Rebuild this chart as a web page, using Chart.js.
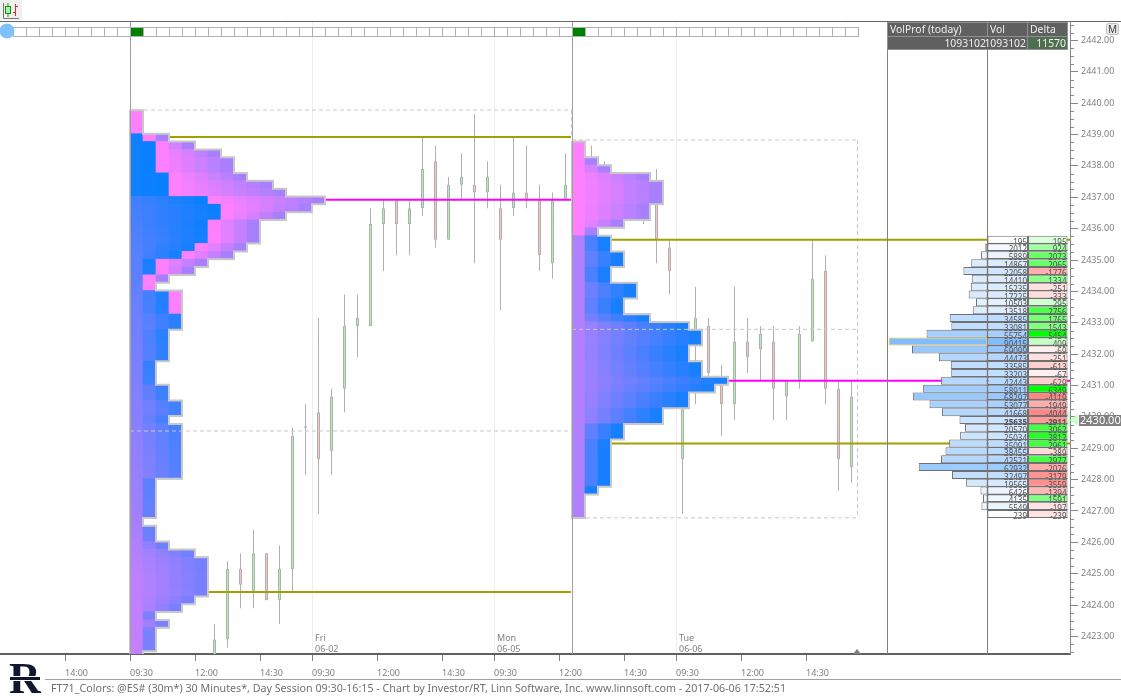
<!DOCTYPE html>
<html>
<head>
<meta charset="utf-8">
<title>FT71_Colors</title>
<script src="https://cdn.jsdelivr.net/npm/chart.js@4"></script>
<style>
  html, body { margin: 0; padding: 0; background: #fff; }
  canvas { display: block; }
</style>
</head>
<body>
<canvas id="chartCanvas" width="1121" height="696"></canvas>
<script>
// candles, one per 30 minute slot, first one sits in slot 6 after the 09:30 line
const candleOpen  = [2422.25,2423,2425.25,2424.5,2425.75,2424.25,2425.25,2429.75,2430.25,2429,2431,2433,2433,2436.25,2437,2436.25,2436.75,2438.25,2435.75,2437.5,2437.5,2437.25,2436.75,2436.75,2437.25,2437,2435,2437,
  2437,2437.5,2437,2437.25,2437.5,2437,2437,2435.5,2428.75,2432.5,2433,2431.25,2430.5,2432.5,2432.25,2432.5,2430.75,2431.25,2432.5,2434.75,2431,2428.5];
const candleHigh  = [2423.5,2425.5,2425.75,2426.5,2425.75,2426,2429.75,2430.5,2433.25,2431,2434,2434,2436.75,2437,2437,2437,2439,2438.75,2437.75,2438.5,2439.75,2438.25,2437.5,2439,2438.75,2437.5,2437.25,2438.5,
  2438,2438.75,2438.25,2437.75,2437.5,2437.25,2438,2435.75,2431.5,2434.25,2433.25,2431.75,2434.25,2433.25,2433,2433,2431.25,2433,2435.75,2435.25,2431.25,2431.25];
const candleLow   = [2422,2422.75,2424,2424,2424.25,2423.5,2424.5,2428.25,2427,2428.25,2430.25,2432,2433,2434.75,2435.25,2435.25,2436.5,2435.5,2435.75,2437,2435,2436.75,2433.5,2436.5,2436.75,2434.75,2434.5,2437,
  2436.5,2436.75,2436.5,2436.5,2436.5,2436.25,2435,2434,2427,2430.5,2431.25,2429.5,2430,2431.5,2431.25,2430,2430,2431,2432.5,2430.5,2427.75,2428];
const candleClose = [2423,2425.25,2424.75,2425.75,2424.25,2425.25,2429.5,2429.8,2428.75,2430.75,2433,2433.25,2436.25,2436.75,2436.25,2436.75,2438,2435.75,2437.5,2437.75,2437.25,2437.75,2435.75,2437.25,2437,2435.25,2437,2437.5,
  2437.5,2437,2437.25,2437,2437,2436.5,2435.75,2434.75,2431,2433.25,2431.5,2430.5,2432.5,2432,2432.75,2431,2431.25,2432.75,2434.5,2431,2428.75,2430.75];

// market profile 1, width of every quarter point row from 2439.75 down
const profile1Cols = [1,1,1,3,5,7,8,8,9,11,12,15,14,12,10,10,10,9,8,6,5,3,2,4,4,4,4,4,3,3,3,3,2,2,2,3,3,4,4,3,4,4,4,4,4,4,4,2,2,2,2,2,1,2,2,3,5,6,6,6,6,6,5,4,2,3,2,2,2,1];
const profile1Blue = [0,0,0,1,2,2,2,2,3,3,3,6,7,7,6,6,6,5,4,2,2,1,1,3,3,3,4,4];
// market profile 2, from 2438.75 down
const profile2Cols = [1,1,2,3,6,7,7,7,6,6,4,2,3,3,4,4,3,3,5,5,4,4,6,9,10,10,9,9,10,10,12,11,9,9,7,7,4,4,3,3,3,3,3,3,2,1,1,1];

// today's volume table, from 2435.75 down
const volumeByPrice = [195,2012,5889,14867,22058,14410,15235,17225,10503,13518,34585,33081,55754,90415,69099,44473,33585,33203,42443,58911,68297,53077,41668,25635,20570,25034,35091,38455,42521,62932,32497,19565,6426,4135,5549,239];
const deltaByPrice  = [195,924,2073,2065,-1776,1334,-251,-333,295,2756,1765,1543,5454,409,-69,-251,-613,-67,-629,6349,-4119,-1949,-4044,-2911,3062,3812,2961,-389,2977,-2026,-3179,-3559,-1394,1591,-197,-239];

const xTickSlots  = [-5,0,5,10,14,19,24,28,33,38,42,47,52];
const xTickLabels = ["14:00","09:30","12:00","14:30","09:30","12:00","14:30","09:30","12:00","14:30","09:30","12:00","14:30"];
const dayLabels   = [["Fri","06-02",14],["Mon","06-05",28],["Tue","06-06",42]];
const sessionSlots = [0,34];

const profile1VAH = 2439, profile1POC = 2437, profile1VAL = 2424.5;
const profile2VAH = 2435.75, profile2POC = 2431.25, profile2VAL = 2429.25;
const lastPrice = 2430, lastRow = 23;

const footerText = "FT71_Colors: @ES# (30m*) 30 Minutes*, Day Session 09:30-16:15 - Chart by Investor/RT, Linn Software, Inc. www.linnsoft.com - 2017-06-06 17:52:51";

const fontName = '"Noto Sans", sans-serif';
const SLOT = 13, ORIGIN = 130;         // one bar is 13 px, first session line at 130
const shift = 0.1;                     // rows and candles sit a little under their tick
const slotOf = px => (px - ORIGIN) / SLOT;
const yMin = 2422.44, yMax = 2442.588;

function stops(list, p) {
    if (p >= list[0][0]) return list[0][1];
    for (let i = 1; i < list.length; i++) {
        if (p >= list[i][0]) {
            const a = list[i - 1], b = list[i];
            return b[1] + (a[1] - b[1]) * (p - b[0]) / (a[0] - b[0]);
        }
    }
    return list[list.length - 1][1];
}
const startStops = [[2437.1,16],[2437,64],[2433,112],[2430,136],[2427,160],[2425,190],[2422,196]];
const endStops   = [[2437,8],[2433,40],[2429,80],[2425,120],[2422,124]];
const pinkR = (c, n, k) => n - k < 2 ? 255 : 255 - 87 * (c - k) / (n - k - 1);
const cellColor = r => "rgb(" + Math.round(r) + ",128,255)";

function profile1Cells() {
    const cells = [];
    profile1Cols.forEach((n, row) => {
        const p = 2439.75 - row * 0.25;
        const k = row < profile1Blue.length ? profile1Blue[row] : n;
        for (let c = 0; c < n; c++) {
            let r;
            if (c >= k) r = pinkR(c, n, k);
            else r = k < 2 ? stops(startStops, p) : stops(startStops, p) + (stops(endStops, p) - stops(startStops, p)) * c / (k - 1);
            cells.push({ x: [c, c + 1], y: p - shift, r: r });
        }
    });
    return cells;
}
function profile2Cells() {
    const cells = [];
    profile2Cols.forEach((n, row) => {
        const p = 2438.75 - row * 0.25;
        for (let c = 0; c < n; c++) {
            let r;
            if (row < 12) r = pinkR(c, n, 0);
            else {
                const t = n < 2 ? 0 : Math.pow(c / (n - 1), n <= 6 ? 0.6 : 0.85);
                r = 176 + (24 - 176) * t;
            }
            cells.push({ x: [34 + c, 35 + c], y: p - shift, r: r });
        }
    });
    return cells;
}
function outline(cols, top, x0) {
    const pts = [];
    const edge = i => top - i * 0.25 - shift + 0.125;
    pts.push({ x: x0, y: edge(0) });
    cols.forEach((n, i) => {
        pts.push({ x: x0 + n, y: edge(i) });
        pts.push({ x: x0 + n, y: edge(i + 1) });
    });
    pts.push({ x: x0, y: edge(cols.length) });
    pts.push({ x: x0, y: edge(0) });
    return pts;
}
function lineSet(pts, color, width, order, dash) {
    return { type: "line", data: pts, borderColor: color, borderWidth: width, pointRadius: 0, tension: 0, fill: false,
        borderDash: dash || [], order: order, borderJoinStyle: "miter", borderCapStyle: "butt" };
}
const hLine = (a, b, p) => [{ x: slotOf(a), y: p }, { x: slotOf(b), y: p }];
const vLine = (s) => [{ x: s, y: yMin }, { x: s, y: yMax }];

const volColor = v => {
    const t = Math.pow(v / 90415, 0.7);
    return "rgb(" + Math.round(255 - 127 * t) + "," + Math.round(255 - 67 * t) + ",255)";
};
const deltaColor = d => {
    if (d >= 0) {
        const c = Math.round(255 * (1 - Math.pow(Math.min(1, d / 5000), 0.6)));
        return "rgb(" + c + ",255," + c + ")";
    }
    const c = Math.round(255 * (1 - 0.5 * Math.pow(Math.min(1, -d / 4500), 0.5)));
    return "rgb(255," + c + "," + c + ")";
};
const rowPrice = i => 2435.75 - i * 0.25;
const PX_VOL = 915, panelL = 887.5, volL = 987.5, deltaL = 1028, tableR = 1067.5;

const barBase = { type: "bar", grouped: false, borderSkipped: false };

const wickSet = Object.assign({}, barBase, {
    data: candleHigh.map((h, i) => ({ x: 6.5 + i, y: [candleLow[i] - shift, h - shift] })),
    barThickness: 1, backgroundColor: "#b0b0b0", borderWidth: 0, inflateAmount: 0, order: 100
});
const bodySet = Object.assign({}, barBase, {
    data: candleOpen.map((o, i) => ({ x: 6.5 + i, y: [o - shift, candleClose[i] - shift] })),
    barThickness: 3, borderWidth: 1, borderColor: "#b0b0b0", inflateAmount: 0, order: 99,
    backgroundColor: candleOpen.map((o, i) => candleClose[i] >= o ? "#a8f5a8" : "#ffc0c0")
});
const cellSet = cells => Object.assign({}, barBase, {
    indexAxis: "y", data: cells, barThickness: 8, borderWidth: 0, order: 90,
    backgroundColor: ctx => ctx.raw ? cellColor(ctx.raw.r) : "#fff"
});
const tableSet = (data, colors, borders, order) => Object.assign({}, barBase, {
    indexAxis: "y", data: data, barThickness: 8, borderWidth: 1, inflateAmount: 0, order: order,
    backgroundColor: colors, borderColor: borders
});

// grey session lines and panel lines, dashes and profile levels
const datasets = [
    wickSet, bodySet,
    cellSet(profile1Cells()), cellSet(profile2Cells()),
    lineSet(outline(profile1Cols, 2439.75, 0), "#c8c8c8", 2, 80),
    lineSet(outline(profile2Cols, 2438.75, 34), "#c8c8c8", 2, 80),
    lineSet(hLine(130, 572, 2439.78), "#c8c8c8", 1, 70, [4, 3]),
    lineSet(hLine(130, 572, 2429.55), "#c8c8c8", 1, 70, [4, 3]),
    lineSet(hLine(572, 858, 2438.83), "#c8c8c8", 1, 70, [4, 3]),
    lineSet(hLine(572, 858, 2432.79), "#c8c8c8", 1, 70, [4, 3]),
    lineSet(hLine(572, 858, 2426.78), "#c8c8c8", 1, 70, [4, 3]),
    lineSet([{ x: slotOf(857.5), y: 2438.83 }, { x: slotOf(857.5), y: 2426.78 }], "#c8c8c8", 1, 70, [4, 3]),
    lineSet([{ x: slotOf(571.5), y: 2439.78 }, { x: slotOf(571.5), y: 2438.9 }], "#c8c8c8", 1, 70, [4, 3]),
    lineSet(hLine(170, 571, profile1VAH - shift + 0.02), "#a0a000", 2, 60),
    lineSet(hLine(209, 571, profile1VAL - shift + 0.02), "#a0a000", 2, 60),
    lineSet(hLine(326, 571, profile1POC - shift + 0.02), "#ff00ff", 2, 60),
    lineSet(hLine(612, 1070, profile2VAH - shift), "#a0a000", 2, 60),
    lineSet(hLine(612, 1070, profile2VAL - shift), "#a0a000", 2, 60),
    lineSet(hLine(729, 1070, profile2POC - shift), "#ff00ff", 2, 60),
    lineSet(vLine(slotOf(130.5)), "#a0a0a0", 1, 56),
    lineSet(vLine(slotOf(572.5)), "#a0a0a0", 1, 56),
    lineSet(vLine(slotOf(panelL)), "#808080", 1, 55),
    lineSet(vLine(slotOf(volL)), "#808080", 1, 55),
    tableSet(volumeByPrice.map((v, i) => ({ x: [slotOf(volL) - v / PX_VOL / SLOT, slotOf(volL)], y: rowPrice(i) - shift })),
        volumeByPrice.map(volColor), volumeByPrice.map(v => v === 90415 ? "#f0c800" : "#707070"), 50),
    tableSet(volumeByPrice.map((v, i) => ({ x: [slotOf(volL), slotOf(deltaL)], y: rowPrice(i) - shift })),
        volumeByPrice.map(volColor), "#707070", 49),
    tableSet(deltaByPrice.map((d, i) => ({ x: [slotOf(deltaL), slotOf(tableR)], y: rowPrice(i) - shift })),
        deltaByPrice.map(deltaColor), "#707070", 48)
];

const chromePlugin = {
    id: "chrome",
    afterDatasetsDraw(chart) {
        const ctx = chart.ctx, y = chart.scales.y, x = chart.scales.x;
        ctx.save();
        // table numbers
        ctx.textBaseline = "alphabetic";
        ctx.textAlign = "right";
        volumeByPrice.forEach((v, i) => {
            const py = y.getPixelForValue(rowPrice(i) - shift);
            ctx.font = (i === lastRow ? "bold " : "") + "8px " + fontName;
            ctx.fillStyle = "#505050";
            ctx.fillText(String(v), deltaL - 1, py + 5);
            ctx.fillText(String(deltaByPrice[i]), tableR - 1, py + 5);
        });
        ctx.strokeStyle = "#707070";
        ctx.lineWidth = 1;
        volumeByPrice.forEach((v, i) => {
            const py = Math.round(y.getPixelForValue(rowPrice(i) - shift) + 4) - 0.5;
            ctx.beginPath(); ctx.moveTo(volL, py); ctx.lineTo(tableR, py); ctx.stroke();
        });
        // day labels
        ctx.textAlign = "left";
        ctx.font = "9px " + fontName;
        ctx.fillStyle = "#808080";
        dayLabels.forEach(d => {
            const px = x.getPixelForValue(d[2]) + 3;
            ctx.fillText(d[0], px, 641);
            ctx.fillText(d[1], px, 652);
        });
        ctx.restore();
    },
    afterDraw(chart) {
        const ctx = chart.ctx, y = chart.scales.y, x = chart.scales.x;
        ctx.save();
        // minor ticks on the price axis
        ctx.strokeStyle = "#888888";
        ctx.lineWidth = 1;
        y.ticks.forEach(t => {
            if (Number.isInteger(t.value) || t.value < yMin || t.value > yMax) return;
            const py = Math.round(y.getPixelForValue(t.value)) + 0.5;
            ctx.beginPath(); ctx.moveTo(1070, py); ctx.lineTo(1074, py); ctx.stroke();
        });
        // top line and toolbar
        ctx.fillStyle = "#f0f0f0"; ctx.fillRect(0, 0, 22, 20);
        ctx.strokeStyle = "#666666";
        ctx.beginPath(); ctx.moveTo(0, 21.5); ctx.lineTo(1121, 21.5); ctx.stroke();
        ctx.strokeStyle = "#777777";
        ctx.beginPath(); ctx.moveTo(3.5, 3); ctx.lineTo(3.5, 18.5); ctx.lineTo(19, 18.5); ctx.stroke();
        ctx.strokeStyle = "#00a000";
        ctx.beginPath(); ctx.moveTo(8, 3); ctx.lineTo(8, 17); ctx.stroke();
        ctx.fillStyle = "#b8e8b8"; ctx.fillRect(5.5, 6.5, 5, 7); ctx.strokeRect(5.5, 6.5, 5, 7);
        ctx.strokeStyle = "#ff2020";
        ctx.beginPath(); ctx.moveTo(15.5, 4); ctx.lineTo(15.5, 16); ctx.moveTo(15.5, 6.5); ctx.lineTo(18, 6.5); ctx.moveTo(13, 12.5); ctx.lineTo(15.5, 12.5); ctx.stroke();
        // session strip
        ctx.lineWidth = 1;
        for (let s = -9; s < 56; s++) {
            const px = Math.round(x.getPixelForValue(s)) + 0.5;
            ctx.fillStyle = sessionSlots.includes(s) ? "#008000" : "#ffffff";
            ctx.strokeStyle = "#b0b0b0";
            ctx.fillRect(px, 27.5, 13, 9);
            ctx.strokeRect(px, 27.5, 13, 9);
        }
        ctx.fillStyle = "#80c0ff";
        ctx.beginPath(); ctx.arc(7, 31, 7.5, 0, Math.PI * 2); ctx.fill();
        // header of the table
        ctx.fillStyle = "#606060"; ctx.fillRect(888, 22, 180, 28);
        ctx.fillStyle = "#4f7050"; ctx.fillRect(1028, 36, 40, 14);
        ctx.strokeStyle = "#909090";
        ctx.strokeRect(887.5, 22.5, 180, 27);
        ctx.beginPath();
        ctx.moveTo(888, 36.5); ctx.lineTo(1068, 36.5);
        ctx.moveTo(987.5, 22); ctx.lineTo(987.5, 36);
        ctx.moveTo(1027.5, 22); ctx.lineTo(1027.5, 50);
        ctx.stroke();
        ctx.fillStyle = "#f0f0f0";
        ctx.font = "10.4px " + fontName;
        ctx.textBaseline = "alphabetic";
        ctx.textAlign = "left";
        ctx.fillText("VolProf (today)", 890, 33);
        ctx.fillText("Vol", 990, 33);
        ctx.fillText("Delta", 1030, 33);
        ctx.textAlign = "right";
        ctx.fillText("1093102", 986, 47);
        ctx.fillText("1093102", 1026, 47);
        ctx.fillText("11570", 1066, 47);
        // M button
        ctx.fillStyle = "#e8e8e8"; ctx.strokeStyle = "#c0c0c0";
        ctx.beginPath(); ctx.roundRect(1106.5, 23.5, 12, 11, 2); ctx.fill(); ctx.stroke();
        ctx.fillStyle = "#404040";
        ctx.textAlign = "center"; ctx.font = "10px " + fontName;
        ctx.fillText("M", 1112.5, 33);
        // last price tag
        const py = y.getPixelForValue(lastPrice - shift);
        ctx.fillStyle = "#c8ffc8";
        ctx.fillRect(1068, py - 8, 2, 14);
        ctx.beginPath(); ctx.moveTo(1070, py); ctx.lineTo(1078, py - 6); ctx.lineTo(1078, py + 6); ctx.fill();
        ctx.fillStyle = "#808080"; ctx.fillRect(1079, py - 5, 42, 11);
        ctx.fillStyle = "#ffffff"; ctx.textAlign = "left"; ctx.font = "11px " + fontName;
        ctx.fillText("2430.00", 1080, py + 4);
        // small triangle on the bottom line
        ctx.fillStyle = "#808080";
        ctx.beginPath(); ctx.moveTo(853, 654); ctx.lineTo(861, 654); ctx.lineTo(857, 649); ctx.fill();
        // footer
        ctx.strokeStyle = "#a0a0a0";
        ctx.beginPath(); ctx.moveTo(45, 679.5); ctx.lineTo(1121, 679.5); ctx.stroke();
        ctx.fillStyle = "#707070"; ctx.textAlign = "left"; ctx.font = "10.7px " + fontName;
        ctx.fillText(footerText, 51, 692);
        // logo
        ctx.fillStyle = "#101830";
        ctx.font = 'bold 44px "Liberation Serif", serif';
        ctx.fillText("R", 9, 693);
        ctx.fillStyle = "#ffffff"; ctx.fillRect(8, 676, 34, 5);
        ctx.fillStyle = "#101830"; ctx.fillRect(10, 677, 30, 3);
        ctx.restore();
    }
};

new Chart(document.getElementById("chartCanvas"), {
    type: "bar",
    data: { datasets: datasets },
    plugins: [chromePlugin],
    options: {
        responsive: false,
        animation: false,
        layout: { autoPadding: false, padding: { top: 22, left: 0, right: 0, bottom: 0 } },
        plugins: { legend: { display: false }, tooltip: { enabled: false } },
        scales: {
            x: {
                type: "linear",
                offset: false,
                min: slotOf(0), max: slotOf(1070),
                afterBuildTicks: s => { s.ticks = xTickSlots.map(v => ({ value: v })); },
                afterFit: s => { s.height = 42; },
                border: { color: "#606060", width: 2 },
                grid: {
                    offset: false,
                    tickLength: 7,
                    color: c => (c.tick && [14, 28, 42].includes(c.tick.value)) ? "#eeeeee" : "rgba(0,0,0,0)",
                    tickColor: "#808080"
                },
                ticks: {
                    autoSkip: false, maxRotation: 0, minRotation: 0, align: "start", padding: 7,
                    color: "#808080", font: { family: fontName, size: 9 },
                    callback: (v, i) => xTickLabels[i]
                }
            },
            y: {
                type: "linear",
                position: "right",
                offset: false,
                min: yMin, max: yMax,
                afterBuildTicks: s => {
                    const list = [];
                    for (let v = 2422.5; v <= 2442.5; v += 0.25) list.push({ value: v });
                    s.ticks = list;
                },
                afterFit: s => { s.width = 51; },
                border: { color: "#888888", width: 1 },
                grid: {
                    offset: false,
                    drawOnChartArea: false, tickLength: 8,
                    tickColor: c => (c.tick && Number.isInteger(c.tick.value)) ? "#888888" : "rgba(0,0,0,0)"
                },
                ticks: {
                    autoSkip: false, padding: 3,
                    color: "#808080", font: { family: fontName, size: 9 },
                    callback: v => Number.isInteger(v) ? v.toFixed(2) : ""
                }
            }
        }
    }
});
</script>
</body>
</html>
